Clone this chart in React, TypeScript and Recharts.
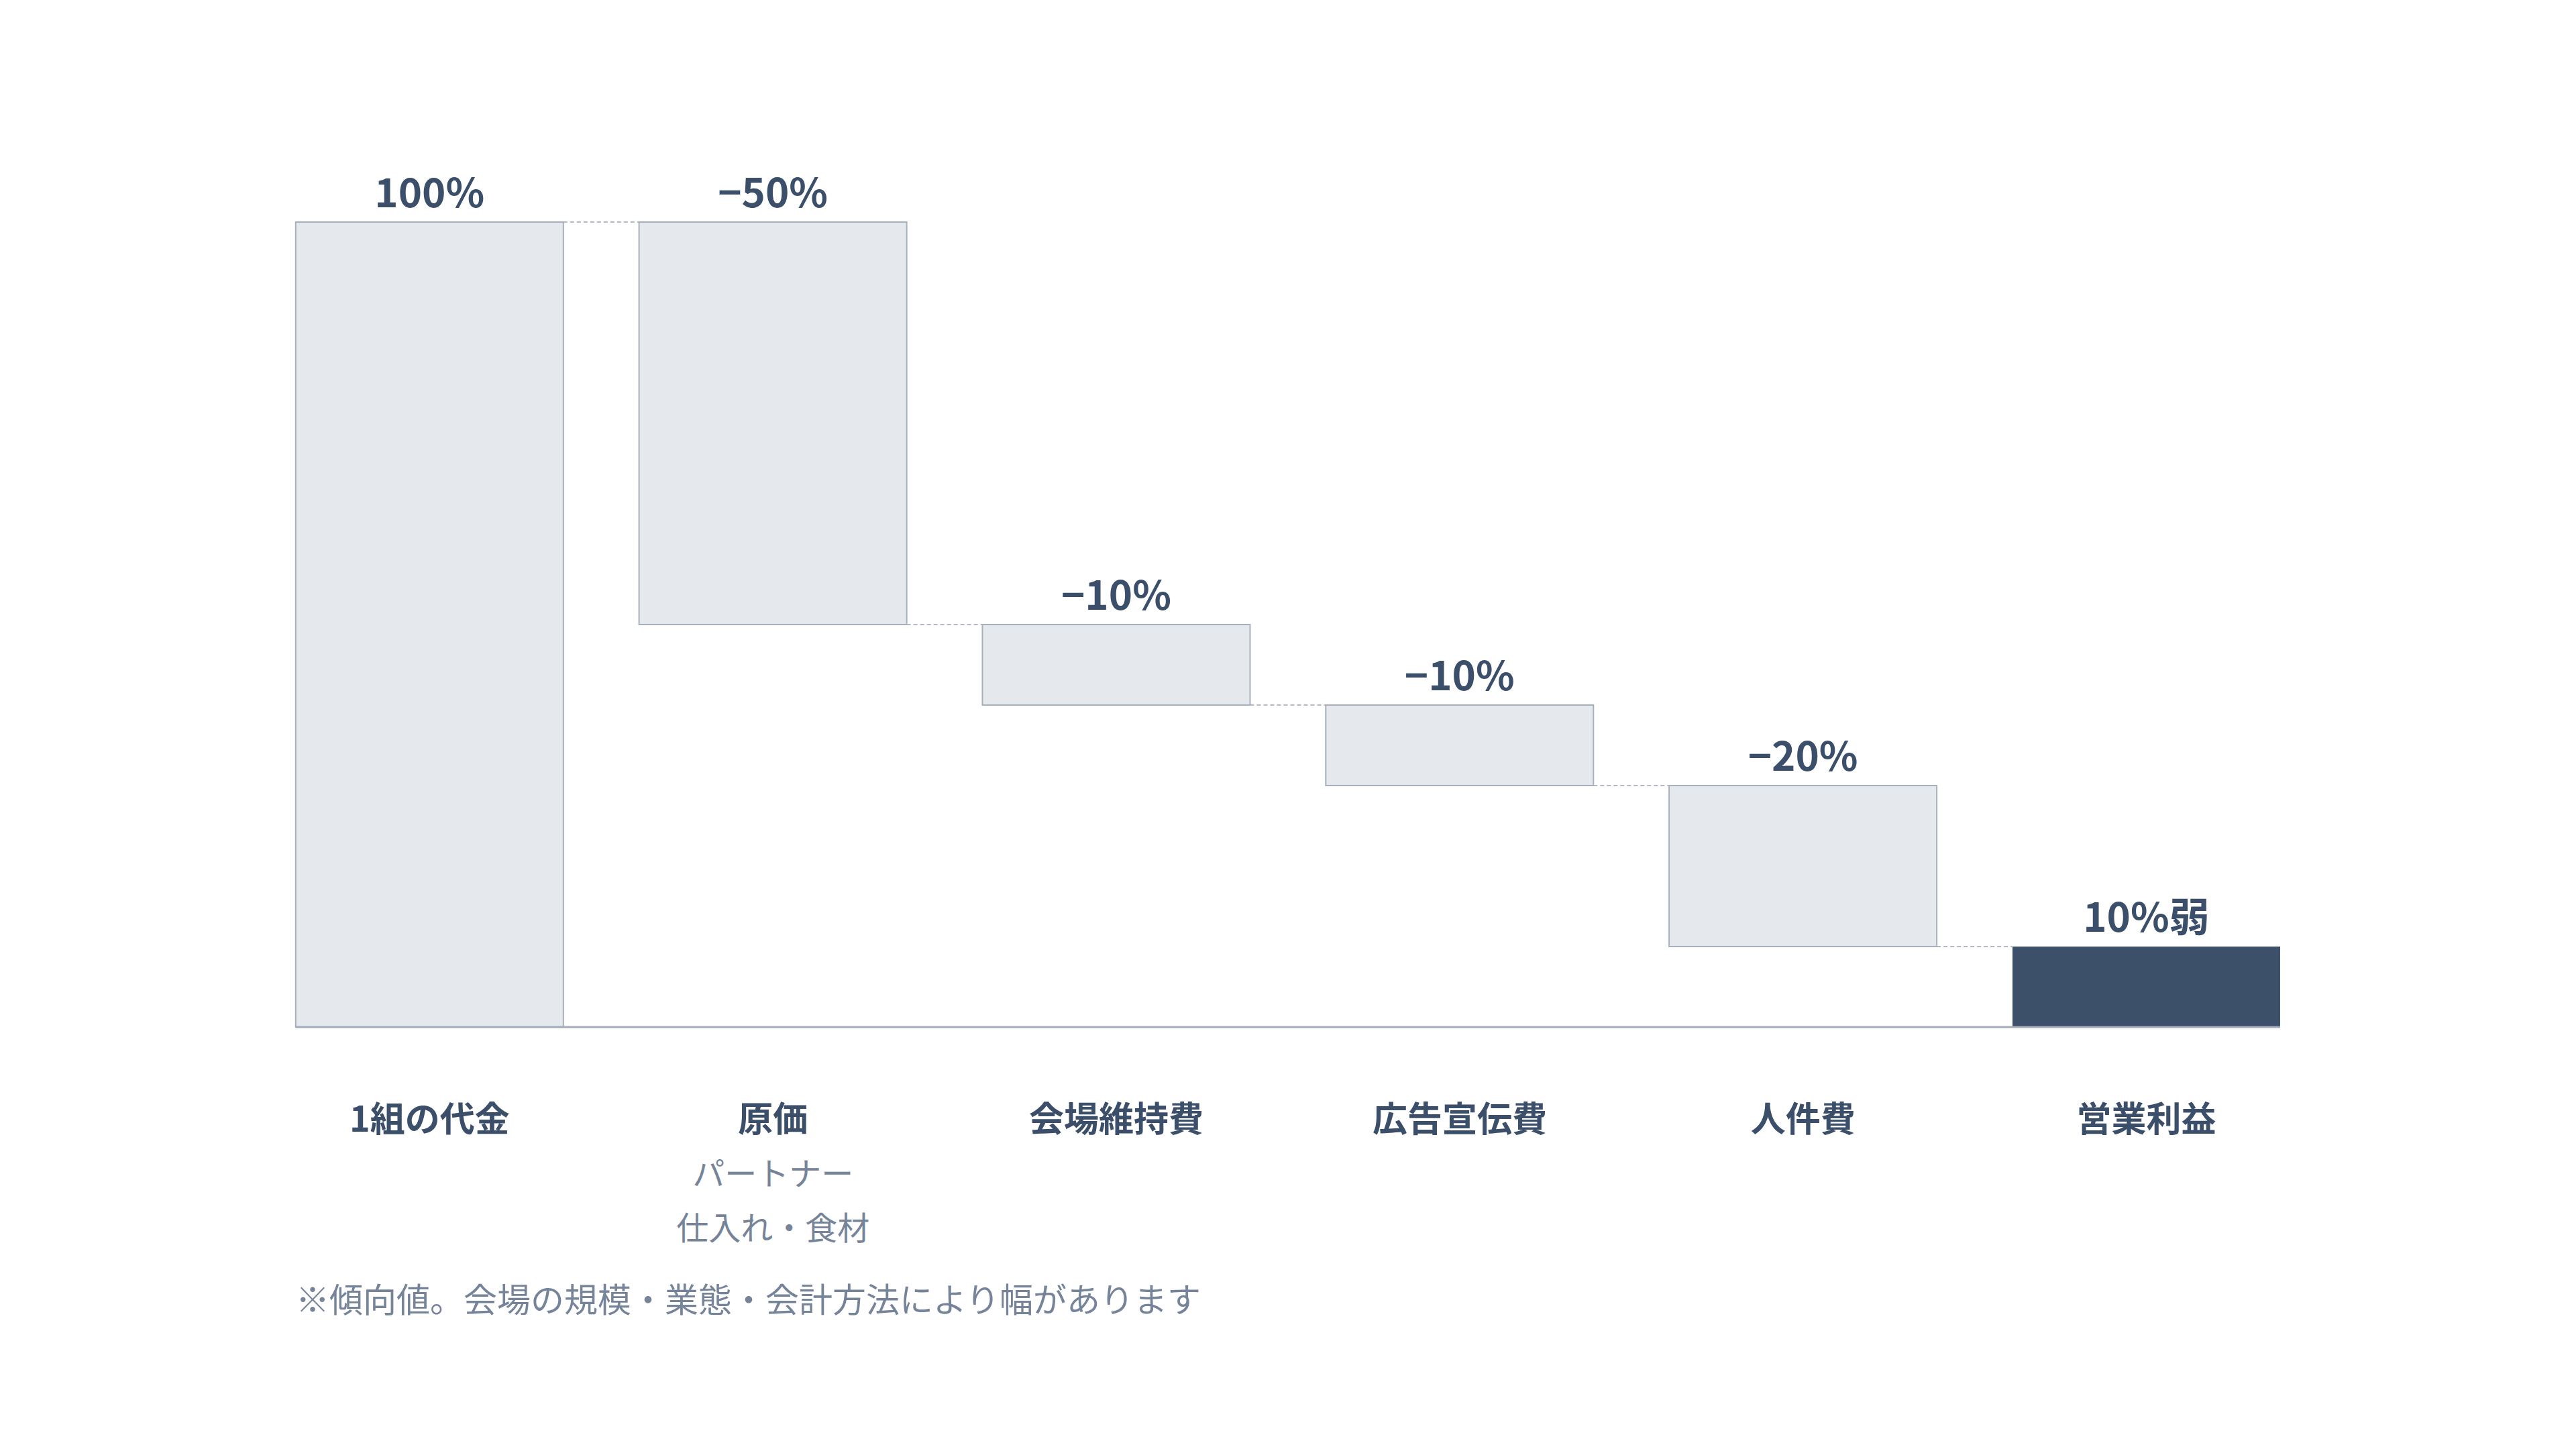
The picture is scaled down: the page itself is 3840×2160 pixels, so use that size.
import React from "react";
import { BarChart, Bar, XAxis, YAxis, Cell, LabelList } from "recharts";

const categories = ["1組の代金", "原価", "会場維持費", "広告宣伝費", "人件費", "営業利益"];
const subLabels = [[], ["パートナー", "仕入れ・食材"], [], [], [], []];
const lows = [0, 50, 40, 30, 10, 0];
const highs = [100, 100, 50, 40, 30, 10];
const kinds = ["total", "minus", "minus", "minus", "minus", "total"];
const valueLabels = ["100%", "−50%", "−10%", "−10%", "−20%", "10%弱"];
const footnote = "※傾向値。会場の規模・業態・会計方法により幅があります";

const data = categories.map((name, i) => ({
  name,
  range: [lows[i], highs[i]],
  kind: kinds[i],
  label: valueLabels[i],
}));

const FONT = '"Noto Sans CJK JP", "Noto Sans", sans-serif';
const DARK = "#3c4f6a";
const SUB = "#76849a";
const LIGHT_FILL = "#e5e9ed";
const LIGHT_STROKE = "#a7b0bd";
const PROFIT = "#3c5069";
const GAP_PCT = 0.11;

const BarShape = (props: any) => {
  const { x, y, width, height, index, payload, fill } = props;
  const top = Math.min(y, y + height);
  const h = Math.abs(height);
  const isProfit = index === categories.length - 1;
  const [lo, hi] = payload.range;
  const level = payload.kind === "total" ? hi : lo;
  const ly = top + ((hi - level) / (hi - lo)) * h;
  const gap = (width * 2 * GAP_PCT) / (1 - 2 * GAP_PCT);
  return (
    <g>
      {index < categories.length - 1 && (
        <line
          x1={x + width}
          x2={x + width + gap}
          y1={ly}
          y2={ly}
          stroke="#b3bac5"
          strokeWidth={2}
          strokeDasharray="6 4"
        />
      )}
      <rect
        x={x}
        y={top}
        width={width}
        height={h}
        fill={fill}
        stroke={isProfit ? "none" : LIGHT_STROKE}
        strokeWidth={2}
      />
    </g>
  );
};

const Tick = (props: any) => {
  const { x, y, payload, index } = props;
  const i = typeof index === "number" ? index : categories.indexOf(payload.value);
  const subs = subLabels[i] || [];
  return (
    <g>
      <text
        x={x}
        y={y + 156}
        textAnchor="middle"
        fontFamily={FONT}
        fontWeight={700}
        fontSize={52}
        fill={DARK}
      >
        {payload.value}
      </text>
      {subs.map((s: string, k: number) => (
        <text
          key={k}
          x={x}
          y={y + 236 + k * 81}
          textAnchor="middle"
          fontFamily={FONT}
          fontWeight={400}
          fontSize={48}
          fill={SUB}
        >
          {s}
        </text>
      ))}
    </g>
  );
};

const TopLabel = (props: any) => {
  const { x, y, width, height, index } = props;
  const top = Math.min(y, y + height);
  return (
    <text
      x={x + width / 2}
      y={top - 22}
      textAnchor="middle"
      fontFamily={FONT}
      fontWeight={700}
      fontSize={60}
      fill={DARK}
    >
      {valueLabels[index]}
    </text>
  );
};

export default function App() {
  return (
    <div style={{ position: "absolute", left: 0, top: 0, width: 3840, height: 2160, background: "#fff" }}>
      <BarChart
        width={3840}
        height={2160}
        data={data}
        margin={{ top: 331, right: 441, bottom: 329, left: 441 }}
        barCategoryGap={`${GAP_PCT * 100}%`}
      >
        <XAxis
          dataKey="name"
          height={300}
          padding={{ left: -56.5, right: -56.5 }}
          axisLine={{ stroke: "#a3acb9", strokeWidth: 3 }}
          tickLine={false}
          tickSize={0}
          tickMargin={0}
          interval={0}
          tick={<Tick />}
        />
        <YAxis hide domain={[0, 100]} />
        <Bar dataKey="range" isAnimationActive={false} shape={<BarShape />}>
          {data.map((d, i) => (
            <Cell key={i} fill={i === categories.length - 1 ? PROFIT : LIGHT_FILL} />
          ))}
          <LabelList dataKey="label" content={<TopLabel />} />
        </Bar>
      </BarChart>
      <svg
        width={3840}
        height={2160}
        style={{ position: "absolute", left: 0, top: 0, pointerEvents: "none" }}
      >
        <text x={441} y={1956} fontFamily={FONT} fontSize={50} fill={SUB}>
          {footnote}
        </text>
      </svg>
    </div>
  );
}
